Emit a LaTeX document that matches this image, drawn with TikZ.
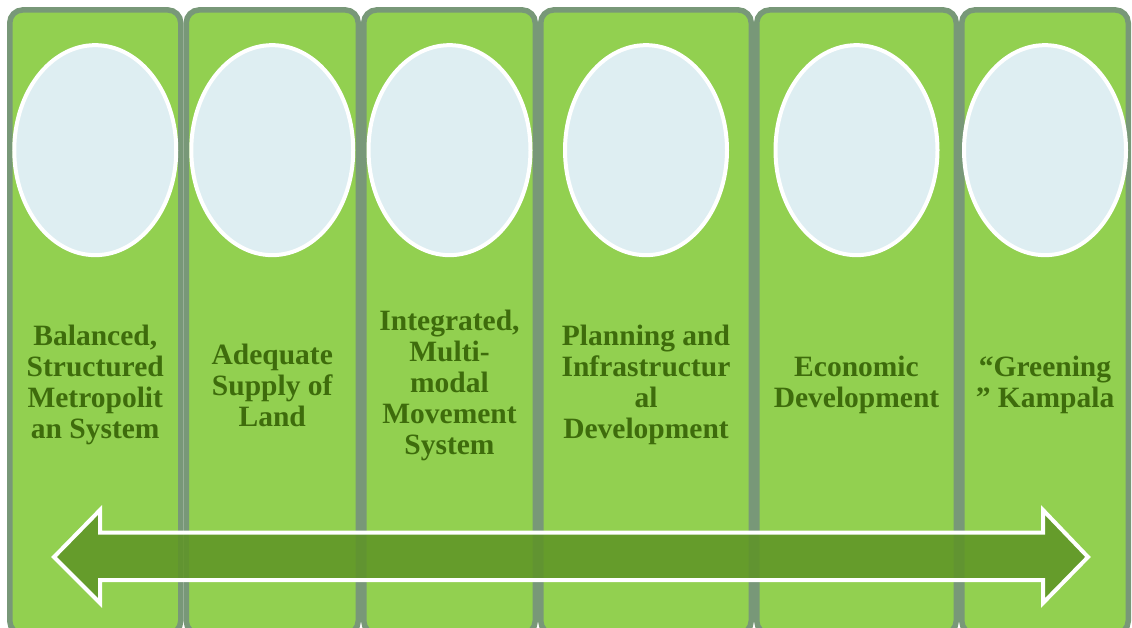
\documentclass[tikz,border=0pt]{standalone}
\usepackage{fontspec}
\setmainfont{Liberation Serif}
\usetikzlibrary{positioning,shapes.geometric}
\definecolor{LeafGreen}{RGB}{146,208,80}
\definecolor{SageGray}{RGB}{120,152,120}
\definecolor{IceBlue}{RGB}{222,238,242}
\definecolor{MossText}{RGB}{62,108,12}
\definecolor{BandGreen}{RGB}{94,148,37}
\tikzset{
  column/.style={rectangle, rounded corners=13pt, draw=SageGray, line width=5.5pt, fill=LeafGreen,
    inner sep=0pt, minimum height=624pt},
  oval/.style={ellipse, draw=white, line width=4pt, fill=IceBlue, inner sep=0pt,
    minimum width=162pt, minimum height=210pt},
  caption/.style={text=MossText, align=center, inner sep=0pt,
    font=\fontsize{29.5}{31}\selectfont\bfseries},
  band/.style={draw=white, line width=4pt, fill=BandGreen, fill opacity=0.85, line join=miter},
}
\begin{document}
\begin{tikzpicture}[x=1pt, y=-1pt]
  \useasboundingbox (0,0) rectangle (1132,627);
  % six pillars
  \node[column, minimum width=171pt] (c1) at (95.25,321.9) {};
  \node[column, minimum width=172pt, right=0pt of c1] (c2) {};
  \node[column, minimum width=171.5pt, right=0pt of c2] (c3) {};
  \node[column, minimum width=210.5pt, right=0pt of c3] (c4) {};
  \node[column, minimum width=199.5pt, right=0pt of c4] (c5) {};
  \node[column, minimum width=166.5pt, right=0pt of c5] (c6) {};
  % ovals
  \node[oval, below=36pt of c1.north] (o1) {};
  \node[oval, below=36pt of c2.north] (o2) {};
  \node[oval, below=36pt of c3.north] (o3) {};
  \node[oval, below=36pt of c4.north] (o4) {};
  \node[oval, below=36pt of c5.north] (o5) {};
  \node[oval, below=36pt of c6.north] (o6) {};
  % captions
  \node[caption] (t1) at (o1 |- 0,385) {Balanced,\\Structured\\Metropolit\\an System};
  \node[caption] (t2) at (o2 |- 0,385) {Adequate\\Supply of\\Land};
  \node[caption] (t3) at (o3 |- 0,385) {Integrated,\\Multi-\\modal\\Movement\\System};
  \node[caption] (t4) at (o4 |- 0,385) {Planning and\\Infrastructur\\al\\Development};
  \node[caption] (t5) at (o5 |- 0,385) {Economic\\Development};
  \node[caption] (t6) at (o6 |- 0,385) {“Greening\\” Kampala};
  % double arrow across
  \draw[band] (54,557) -- (100,510) -- (100,532.5) -- (1043,532.5) -- (1043,510) -- (1088,557)
    -- (1043,603) -- (1043,580) -- (100,580) -- (100,603) -- cycle;
\end{tikzpicture}
\end{document}
